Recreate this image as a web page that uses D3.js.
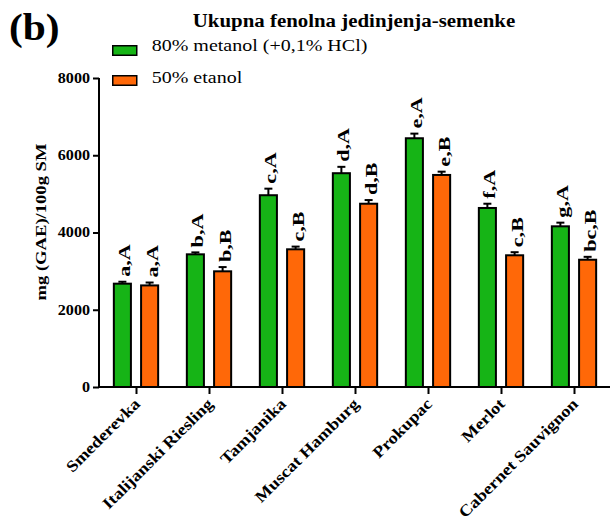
<!DOCTYPE html>
<html>
<head>
<meta charset="utf-8">
<script src="https://cdn.jsdelivr.net/npm/d3@7/dist/d3.min.js"></script>
<style>
  html, body { margin: 0; padding: 0; background: #fff; }
  svg { display: block; }
  text { font-family: "Liberation Serif", "Times New Roman", serif; fill: #000; }
</style>
</head>
<body>
<svg id="chart" width="610" height="524"></svg>
<script>
// Total phenolics in grape seeds, two extraction solvents
const cultivars = ["Smederevka", "Italijanski Riesling", "Tamjanika", "Muscat Hamburg",
                   "Prokupac", "Merlot", "Cabernet Sauvignon"];
const seriesNames = ["80% metanol (+0,1% HCl)", "50% etanol"];
const methanolValues = [2675, 3435, 4965, 5535, 6440, 4635, 4160];
const ethanolValues  = [2630, 2995, 3565, 4745, 5490, 3410, 3295];
const methanolErrors = [50, 50, 170, 165, 120, 110, 95];
const ethanolErrors  = [75, 110, 70, 95, 85, 80, 75];
const methanolLetters = ["a,A", "b,A", "c,A", "d,A", "e,A", "f,A", "g,A"];
const ethanolLetters  = ["a,A", "b,B", "c,B", "d,B", "e,B", "c,B", "bc,B"];
const yTicks = [0, 2000, 4000, 6000, 8000];
const seriesColors = ["#16b416", "#ff6808"];

const FONT = "Liberation Serif";
const svg = d3.select("#chart");

// widen text along its reading direction (the source typeface runs wide)
function stretch(sel, k) {
  sel.each(function () {
    const L = this.getComputedTextLength();
    this.setAttribute("textLength", L * k);
    this.setAttribute("lengthAdjust", "spacingAndGlyphs");
  });
}

const x0 = d3.scaleBand().domain(cultivars).range([99.5, 610.5]).padding(0);
const x1 = d3.scaleBand().domain([0, 1]).range([0, x0.bandwidth()])
  .paddingInner(0.3).paddingOuter(0.49);
const y = d3.scaleLinear().domain([0, 8000]).range([387, 78]);

const rows = cultivars.map((c, i) => ({
  cultivar: c,
  bars: [
    { s: 0, v: methanolValues[i], e: methanolErrors[i], lab: methanolLetters[i] },
    { s: 1, v: ethanolValues[i],  e: ethanolErrors[i],  lab: ethanolLetters[i] }
  ]
}));

const groups = svg.append("g").selectAll("g").data(rows).join("g")
  .attr("transform", d => `translate(${x0(d.cultivar)},0)`);

// bars (stroke sits inside the band width)
groups.selectAll("rect").data(d => d.bars).join("rect")
  .attr("x", d => x1(d.s) + 1)
  .attr("width", x1.bandwidth() - 2)
  .attr("y", d => y(d.v))
  .attr("height", d => y(0) - y(d.v))
  .attr("fill", d => seriesColors[d.s])
  .attr("stroke", "#000")
  .attr("stroke-width", 2);

// upper error whiskers
const eb = groups.selectAll("g.err").data(d => d.bars).join("g").attr("class", "err");
eb.append("line")
  .attr("x1", d => x1(d.s) + x1.bandwidth() / 2)
  .attr("x2", d => x1(d.s) + x1.bandwidth() / 2)
  .attr("y1", d => y(d.v))
  .attr("y2", d => y(d.v + d.e))
  .attr("stroke", "#000").attr("stroke-width", 2);
eb.append("line")
  .attr("x1", d => x1(d.s) + x1.bandwidth() / 2 - 4)
  .attr("x2", d => x1(d.s) + x1.bandwidth() / 2 + 4)
  .attr("y1", d => y(d.v + d.e))
  .attr("y2", d => y(d.v + d.e))
  .attr("stroke", "#000").attr("stroke-width", 2);

// significance letters above each bar
const labs = groups.selectAll("text.sig").data(d => d.bars).join("text")
  .attr("class", "sig")
  .attr("transform", d => `translate(${x1(d.s) + x1.bandwidth() / 2 + 2},${y(d.v + d.e) - 5}) rotate(-90)`)
  .attr("dy", "0.35em")
  .attr("font-family", FONT)
  .attr("font-size", 17)
  .attr("font-weight", "bold")
  .text(d => d.lab);
stretch(labs, 1.3);

// y axis
const yAxis = svg.append("g").attr("transform", "translate(99,0)")
  .call(d3.axisLeft(y).tickValues(yTicks).tickFormat(d3.format("d")).tickSize(6).tickPadding(3));
yAxis.select(".domain").attr("stroke-width", 2).attr("d", "M0,78V388");
yAxis.selectAll(".tick line").attr("stroke-width", 2);
yAxis.selectAll(".tick text")
  .attr("font-family", FONT).attr("font-weight", "bold").attr("font-size", 14);
stretch(yAxis.selectAll(".tick text"), 1.15);

// x axis
const xAxis = svg.append("g").attr("transform", "translate(0,387)")
  .call(d3.axisBottom(x0).tickSize(7).tickFormat(""));
xAxis.select(".domain").attr("stroke-width", 2).attr("d", "M98,0H610");
xAxis.selectAll(".tick line").attr("stroke-width", 2)
  .attr("transform", "translate(0.5,0)");

const xl = svg.append("g").selectAll("text").data(cultivars).join("text")
  .attr("transform", d => `translate(${x0(d) + x0.bandwidth() / 2 - 3},${397}) rotate(-45)`)
  .attr("text-anchor", "end")
  .attr("dy", "0.7em")
  .attr("font-family", FONT)
  .attr("font-size", 16)
  .attr("font-weight", "bold")
  .text(d => d);
stretch(xl, 1.15);

// y axis title
const yt = svg.append("text")
  .attr("transform", "translate(46,222) rotate(-90)")
  .attr("text-anchor", "middle")
  .attr("font-family", FONT)
  .attr("font-size", 15.5)
  .attr("font-weight", "bold")
  .text("mg (GAE)/100g SM");
stretch(yt, 1.2);

// title and panel letter
const title = svg.append("text")
  .attr("x", 354).attr("y", 26.7)
  .attr("text-anchor", "middle")
  .attr("font-family", FONT)
  .attr("font-size", 18).attr("font-weight", "bold")
  .text("Ukupna fenolna jedinjenja-semenke");
stretch(title, 1.16);

const panel = svg.append("text")
  .attr("x", 9).attr("y", 40)
  .attr("font-family", FONT)
  .attr("font-size", 37).attr("font-weight", "bold")
  .text("(b)");
stretch(panel, 1.12);

// legend
const leg = svg.append("g").selectAll("g").data(seriesNames).join("g")
  .attr("transform", (d, i) => `translate(112,${45 + i * 30})`);
leg.append("rect")
  .attr("x", 0.75).attr("y", 0.75).attr("width", 24).attr("height", 9.5)
  .attr("fill", (d, i) => seriesColors[i])
  .attr("stroke", "#000").attr("stroke-width", 1.5);
const lt = leg.append("text")
  .attr("x", 39.7).attr("y", (d, i) => i === 0 ? 6 : 7.7)
  .attr("font-family", FONT)
  .attr("font-size", 16)
  .text(d => d);
stretch(lt, 1.25);
</script>
</body>
</html>
